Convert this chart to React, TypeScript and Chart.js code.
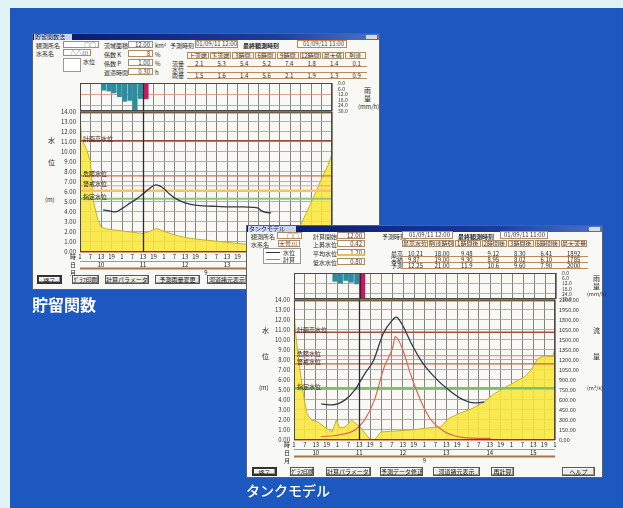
import React, { useEffect, useRef } from "react";
import { Chart, registerables } from "chart.js";

Chart.register(...registerables);

const FONT = '"Noto Sans CJK JP", "Noto Sans", sans-serif';
Chart.defaults.font.family = FONT;

// ---------- shared time axis (1 unit = 6 hours) ----------
const hourLabels = ["1","7","13","19","1","7","13","19","1","7","13","19","1","7","13","19","1","7","13","19","1","7","13","19","1"];
const dayLabels = ["10", "11", "12", "13", "14", "15"];
const dayCenters = [2, 6, 10, 14, 18, 22];
const monthLabels = ["9"];
const monthCenters = [12];
const rowNames = ["時", "日", "月"];
const levelTop = 14;
const rainTicks = [0, 6, 12, 18, 24, 30];

// ---------- 貯留関数 ----------
const s1RainX = [2.25, 2.75, 3.25, 3.75, 4.25, 4.75, 5.25, 5.75];
const s1Rain = [8, 9, 11, 15, 20, 19, 29, 17];
const s1RainFcX = [6.25];
const s1RainFc = [17];
const s1ObsX = [0, 0.15, 0.6, 1.0, 1.25, 1.7, 2.0, 2.5, 3.2, 4.0, 4.8, 5.5, 6.0, 6.6, 7.3, 7.9, 8.6, 9.4, 10.2, 11.0, 11.8, 12.8, 13.7, 14.6, 15.6, 16.5, 17.5, 18.5, 19.5, 20.5, 21.1, 21.6, 22.3, 23.0, 23.6, 24];
const s1Obs = [13.5, 11.3, 10.3, 9.0, 5.2, 3.2, 2.5, 2.3, 2.2, 2.1, 2.0, 1.9, 1.85, 2.05, 2.35, 2.1, 1.85, 1.6, 1.4, 1.3, 1.2, 1.1, 1.0, 0.9, 0.8, 0.8, 0.9, 1.0, 1.2, 1.8, 2.9, 4.0, 5.6, 7.3, 8.6, 9.8];
const s1CalcX = [2.2, 2.8, 3.4, 4.1, 4.8, 5.4, 6.0, 6.6, 7.2, 7.6, 8.0, 8.5, 9.0, 10.0, 10.8, 11.8, 13.0, 14.3, 15.5, 16.5, 16.9, 17.3, 17.7, 18.2];
const s1Calc = [4.2, 4.1, 4.0, 4.4, 4.9, 5.3, 5.8, 6.3, 6.7, 6.6, 6.3, 5.8, 5.4, 4.9, 4.7, 4.6, 4.55, 4.5, 4.5, 4.45, 4.4, 4.1, 3.95, 3.9];
const s1RefLevels = [11.1, 7.6, 6.6, 6.1, 5.3];
const s1RefNames = ["計画高水位", "危険水位", "警戒水位", "", "指定水位"];
const s1RefColors = ["#9a4a38", "#d0705a", "#e6a090", "#f2c46a", "#8cc878"];
const s1RefWidths = [1.6, 1.3, 1, 2.5, 2];
const s1Now = 6;

// ---------- タンクモデル ----------
const t2RainX = [3.75, 4.25, 4.75, 5.25, 5.75];
const t2Rain = [10, 12, 9, 11, 13];
const t2RainFcX = [6.25];
const t2RainFc = [30];
const t2FlowX = [0, 0.15, 0.55, 0.85, 1.2, 1.6, 2.2, 2.8, 3.5, 3.9, 4.2, 4.7, 5.3, 5.6, 6.1, 6.5, 7.0, 7.4, 8.0, 9.3, 10.8, 12.3, 13.5, 14.2, 15.1, 16.3, 17.5, 18.4, 20.0, 21.2, 21.8, 22.4, 23.0, 23.8, 24];
const t2Flow = [1980, 1590, 1050, 690, 390, 300, 270, 195, 120, 300, 180, 195, 300, 255, 195, 105, 10, 0, 120, 135, 150, 180, 195, 320, 390, 465, 570, 690, 840, 945, 1050, 1215, 1260, 1245, 1395];
const t2CalcX = [2.5, 3.5, 4.7, 5.6, 6.5, 7.3, 8.2, 9.0, 9.4, 9.9, 10.8, 11.7, 12.9, 14.2, 15.4, 16.6, 17.5];
const t2Calc = [3.6, 3.5, 4.0, 5.0, 6.6, 7.9, 10.6, 11.9, 12.25, 11.6, 9.6, 7.9, 6.3, 5.0, 4.1, 3.7, 3.8];
const t2TankX = [2.5, 4.1, 5.6, 6.5, 7.4, 8.3, 9.1, 9.3, 9.9, 10.8, 11.7, 12.6, 13.9, 15.1, 16.9, 18.1];
const t2Tank = [0.33, 0.5, 1.0, 2.0, 4.0, 7.3, 9.3, 10.3, 9.3, 6.3, 3.8, 2.0, 0.8, 0.33, 0.17, 0.17];
const t2RefLevels = [10.75, 8.4, 7.6, 5.15];
const t2RefNames = ["計画高水位", "危険水位", "警戒水位", "指定水位"];
const t2RefColors = ["#a05040", "#d88070", "#c86050", "#7cc070"];
const t2RefWidths = [1.6, 1.2, 1.2, 2.5];
const t2Now = 6;

const GRID_V = "rgba(100,92,88,0.75)";
const GRID_H = "rgba(212,146,128,0.85)";

const framePlugin = {
  id: "frame",
  afterDatasetsDraw(chart: any) {
    const { ctx, chartArea: a } = chart;
    ctx.save();
    ctx.strokeStyle = "#4a4a4a";
    ctx.lineWidth = 1;
    ctx.strokeRect(a.left + 0.5, a.top + 0.5, a.width - 1, a.height - 1);
    ctx.restore();
  },
};

function nowLinePlugin(xv: number) {
  return {
    id: "nowLine",
    afterDatasetsDraw(chart: any) {
      const { ctx, chartArea: a, scales } = chart;
      const px = Math.round(scales.x.getPixelForValue(xv)) + 0.5;
      ctx.save();
      ctx.strokeStyle = "#2b2b2b";
      ctx.lineWidth = 1.3;
      ctx.beginPath();
      ctx.moveTo(px, a.top);
      ctx.lineTo(px, a.bottom);
      ctx.stroke();
      ctx.restore();
    },
  };
}

const rainLabelPlugin = {
  id: "rainLabels",
  afterDraw(chart: any) {
    const { ctx, chartArea: a, scales } = chart;
    ctx.save();
    ctx.font = `5px ${FONT}`;
    ctx.fillStyle = "#333";
    ctx.textAlign = "left";
    ctx.textBaseline = "middle";
    rainTicks.forEach((v) => ctx.fillText(v.toFixed(1), a.right + 6, scales.y.getPixelForValue(v)));
    ctx.restore();
  },
};

function refLabelPlugin(levels: number[], names: string[]) {
  return {
    id: "refLabels",
    afterDatasetsDraw(chart: any) {
      const { ctx, chartArea: a, scales } = chart;
      ctx.save();
      ctx.font = `6px ${FONT}`;
      ctx.fillStyle = "#3a2418";
      ctx.textAlign = "left";
      ctx.textBaseline = "bottom";
      levels.forEach((v, i) => {
        if (!names[i]) return;
        ctx.fillText(names[i], a.left + 3, scales.y.getPixelForValue(v) + 1);
      });
      ctx.restore();
    },
  };
}

const rowsPlugin = {
  id: "rows",
  afterDraw(chart: any) {
    const { ctx, chartArea: a, scales } = chart;
    const x = scales.x;
    ctx.save();
    ctx.strokeStyle = "#9a9a9a";
    ctx.lineWidth = 1;
    ctx.beginPath();
    ctx.moveTo(a.left, a.bottom + 9.5);
    ctx.lineTo(a.right, a.bottom + 9.5);
    ctx.stroke();
    ctx.strokeStyle = "#a8744a";
    ctx.lineWidth = 2;
    ctx.beginPath();
    ctx.moveTo(a.left, a.bottom + 16.5);
    ctx.lineTo(a.right, a.bottom + 16.5);
    ctx.stroke();
    ctx.font = `6px ${FONT}`;
    ctx.fillStyle = "#222";
    ctx.textAlign = "center";
    ctx.textBaseline = "middle";
    dayLabels.forEach((d, i) => ctx.fillText(d, x.getPixelForValue(dayCenters[i]), a.bottom + 13));
    monthLabels.forEach((m, i) => ctx.fillText(m, x.getPixelForValue(monthCenters[i]), a.bottom + 20.5));
    ctx.textAlign = "right";
    const ys = [5, 13, 20.5];
    rowNames.forEach((n, i) => ctx.fillText(n, a.left - 4, a.bottom + ys[i]));
    ctx.restore();
  },
};

const pts = (xs: number[], ys: number[]) => xs.map((x, i) => ({ x, y: ys[i] }));

function rainConfig(xs: number[], vals: number[], fxs: number[], fvals: number[], now: number): any {
  return {
    type: "bar",
    data: {
      datasets: [
        { data: pts(xs, vals), backgroundColor: "#2a8da0", barPercentage: 0.92, categoryPercentage: 1, grouped: false, order: 2 },
        { data: pts(fxs, fvals), backgroundColor: "#c21d5e", barPercentage: 1, categoryPercentage: 1, grouped: false, order: 1 },
      ],
    },
    options: {
      responsive: false,
      animation: false,
      devicePixelRatio: 1,
      layout: { padding: { left: 44, top: 3, right: 0, bottom: 3 } },
      plugins: { legend: { display: false }, tooltip: { enabled: false } },
      scales: {
        x: {
          type: "linear", min: 0, max: 24, offset: false,
          ticks: { display: false, stepSize: 1 },
          grid: { color: GRID_V, drawTicks: false, offset: false },
          border: { display: false },
          afterFit: (s: any) => { s.height = 0; },
        },
        y: {
          type: "linear", position: "right", reverse: true, min: 0, max: 30,
          ticks: { display: false, stepSize: 6 },
          grid: { drawTicks: false, color: (c: any) => (c.tick && c.tick.value % 12 === 0 && c.tick.value > 0 && c.tick.value < 30 ? GRID_H : "rgba(0,0,0,0)") },
          border: { display: false },
          afterFit: (s: any) => { s.width = 44; },
        },
      },
    },
    plugins: [framePlugin, nowLinePlugin(now), rainLabelPlugin],
  };
}

function levelConfig(p: any): any {
  const datasets: any[] = [];
  datasets.push({
    data: pts(p.fillX, p.fillY), yAxisID: p.rightAxis ? "y2" : "y", fill: "origin",
    backgroundColor: "rgba(248,230,60,0.88)", borderColor: "#c9b028", borderWidth: 1, pointRadius: 0, tension: 0, order: 10,
  });
  p.refLevels.forEach((v: number, i: number) =>
    datasets.push({ data: [{ x: 0, y: v }, { x: 24, y: v }], borderColor: p.refColors[i], borderWidth: p.refWidths[i], pointRadius: 0, fill: false, order: 5 })
  );
  datasets.push({ data: [{ x: 0, y: levelTop }, { x: 24, y: levelTop }], borderColor: "#a87438", borderWidth: 4, pointRadius: 0, fill: false, order: 4 });
  p.lines.forEach((l: any) =>
    datasets.push({ data: pts(l.xs, l.ys), borderColor: l.color, borderWidth: l.width, pointRadius: 0, cubicInterpolationMode: "monotone", fill: false, order: 1 })
  );
  const scales: any = {
    x: {
      type: "linear", min: 0, max: 24,
      ticks: { stepSize: 1, autoSkip: false, maxRotation: 0, minRotation: 0, font: { size: 6 }, color: "#222", padding: 1, callback: (_v: any, i: number) => hourLabels[i] ?? "" },
      grid: { color: GRID_V, drawTicks: false },
      border: { display: false },
      afterFit: (s: any) => { s.height = 24; },
    },
    y: {
      type: "linear", position: "left", min: 0, max: levelTop,
      ticks: { stepSize: 1, autoSkip: false, font: { size: 6 }, color: "#333", padding: 4, callback: (v: number) => v.toFixed(2) },
      grid: { color: GRID_H, drawTicks: false },
      border: { display: false },
      afterFit: (s: any) => { s.width = 44; },
    },
  };
  if (p.rightAxis) {
    scales.y2 = {
      type: "linear", position: "right", min: 0, max: 2100,
      ticks: { stepSize: 150, autoSkip: false, font: { size: 5.5 }, color: "#333", padding: 4, callback: (v: number) => v.toFixed(2) },
      grid: { display: false, drawTicks: false },
      border: { display: false },
      afterFit: (s: any) => { s.width = 45; },
    };
  }
  return {
    type: "line",
    data: { datasets },
    options: {
      responsive: false,
      animation: false,
      devicePixelRatio: 1,
      layout: { padding: { top: 7, right: p.rightAxis ? 0 : 44, left: 0, bottom: 0 } },
      plugins: { legend: { display: false }, tooltip: { enabled: false } },
      scales,
    },
    plugins: [framePlugin, nowLinePlugin(p.now), refLabelPlugin(p.refLevels, p.refNames), rowsPlugin],
  };
}

function ChartBox({ left, top, width, height, make }: any) {
  const ref = useRef<HTMLCanvasElement>(null);
  useEffect(() => {
    const chart = new Chart(ref.current as HTMLCanvasElement, make());
    return () => chart.destroy();
  }, []);
  return <canvas ref={ref} width={width} height={height} style={{ position: "absolute", left, top, width, height }} />;
}

const txt = (x: number, y: number, s: string, extra: any = {}) => (
  <div key={`t${x}-${y}-${s}`} style={{ position: "absolute", left: x, top: y, fontSize: 6, lineHeight: "7px", color: "#2a2a2a", whiteSpace: "nowrap", ...extra }}>{s}</div>
);
const box = (x: number, y: number, w: number, h: number, s = "", extra: any = {}) => (
  <div key={`b${x}-${y}`} style={{ position: "absolute", left: x, top: y, width: w, height: h, boxSizing: "border-box", border: "1px solid #b08a60", background: "#fff", fontSize: 6, lineHeight: `${h - 2}px`, textAlign: "right", paddingRight: 2, color: "#333", whiteSpace: "nowrap", overflow: "hidden", ...extra }}>{s}</div>
);
const btn = (x: number, y: number, w: number, h: number, s: string, strong = false) => (
  <div key={`n${x}-${y}`} style={{ position: "absolute", left: x, top: y, width: w, height: h, boxSizing: "border-box", border: strong ? "2px solid #333" : "1px solid #555", background: "#ecebe4", boxShadow: "inset -1px -1px 0 #999, inset 1px 1px 0 #fff", fontSize: 6, lineHeight: `${h - 2}px`, textAlign: "center", color: "#111", whiteSpace: "nowrap", overflow: "hidden" }}>{s}</div>
);
const hline = (x: number, y: number, w: number, c = "#a8744a", t = 1) => (
  <div key={`h${x}-${y}-${w}`} style={{ position: "absolute", left: x, top: y, width: w, height: t, background: c }} />
);

function Window1() {
  const cells1 = ["上流端", "下流端", "3時間", "6時間", "9時間", "12時間", "最大値", "到達"];
  return (
    <>
      <div style={{ position: "absolute", left: 32, top: 33, width: 348, height: 257, background: "#f8f8f4", border: "1px solid #606060", boxSizing: "border-box" }} />
      <div style={{ position: "absolute", left: 33, top: 34, width: 346, height: 6, background: "linear-gradient(90deg,#06166a,#1d3c9c 70%,#4b74c8)" }} />
      <div style={{ position: "absolute", left: 34, top: 34, width: 38, height: 6, background: "#c8d4ec" }} />
      {txt(35, 34, "貯留関数法", { color: "#102060", fontSize: 6, lineHeight: "6px" })}
      <div style={{ position: "absolute", left: 366, top: 35, width: 11, height: 4, background: "#d8d8d8" }} />
      {txt(36, 42, "観測所名")}
      {box(63, 41, 36, 7, "○○")}
      {txt(36, 50, "水系名")}
      {box(63, 49, 28, 7, "△△川", { borderColor: "#d08040" })}
      {box(63, 58, 18, 14, "", { borderColor: "#999" })}
      {txt(83, 58, "水位")}
      {txt(104, 42, "流域面積")}
      {txt(104, 51, "係数 K")}
      {txt(104, 60, "係数 P")}
      {txt(104, 69, "遅滞時間")}
      {box(128, 41, 25, 7, "12.00")}
      {box(128, 50, 25, 7, "8")}
      {box(128, 59, 25, 7, "1.00")}
      {box(128, 68, 25, 7, "0.30")}
      {txt(155, 42, "km²")}
      {txt(155, 51, "%")}
      {txt(155, 60, "%")}
      {txt(155, 69, "h")}
      {txt(170, 42, "予測時刻")}
      {box(195, 40, 43, 8, "01/09/11 12:00")}
      {txt(243, 42, "最終観測時刻", { fontWeight: 700 })}
      {box(297, 40, 50, 8, "01/09/11 11:00", { borderColor: "#d08040" })}
      {cells1.map((c, i) => box(187 + i * 22.5, 52, 21.5, 7, c, { textAlign: "center", paddingRight: 0, background: "#f4f2ea" }))}
      {txt(172, 60, "流量")}
      {txt(172, 66, "水位")}
      {txt(172, 72, "雨量")}
      {[0, 1, 2].map((r) => hline(187, 66 + r * 6, 180, "#b88a60"))}
      {["2.1", "5.3", "5.4", "5.2", "7.4", "1.8", "1.4", "0.1"].map((v, i) => txt(195 + i * 22.5, 60, v))}
      {["1.5", "1.6", "1.4", "5.6", "2.1", "1.9", "1.3", "0.9"].map((v, i) => txt(195 + i * 22.5, 72, v))}
      {txt(48, 137, "水", { fontSize: 7 })}
      {txt(48, 159, "位", { fontSize: 7 })}
      {txt(45, 196, "(m)", { fontSize: 6 })}
      {txt(364, 87, "雨", { fontSize: 7 })}
      {txt(364, 95, "量", { fontSize: 7 })}
      {txt(358, 103, "(mm/h)", { fontSize: 6 })}
      <ChartBox left={36} top={80} width={340} height={34} make={() => rainConfig(s1RainX, s1Rain, s1RainFcX, s1RainFc, s1Now)} />
      <ChartBox
        left={36}
        top={104}
        width={340}
        height={172}
        make={() =>
          levelConfig({
            fillX: s1ObsX, fillY: s1Obs, rightAxis: false,
            lines: [{ xs: s1CalcX, ys: s1Calc, color: "#323a4c", width: 1.3 }],
            refLevels: s1RefLevels, refNames: s1RefNames, refColors: s1RefColors, refWidths: s1RefWidths, now: s1Now,
          })
        }
      />
      {btn(37, 275, 25, 9, "終了", true)}
      {btn(72, 275, 27, 9, "ｸﾞﾗﾌ印刷")}
      {btn(105, 275, 44, 9, "計算パラメータ変更")}
      {btn(155, 275, 45, 9, "予測雨量変更")}
      {btn(207, 275, 40, 9, "河道諸元表示")}
    </>
  );
}

function Window2() {
  const cells2 = ["最高水位", "到達時刻", "1時間後", "2時間後", "3時間後", "6時間後", "最大流量"];
  return (
    <>
      <div style={{ position: "absolute", left: 246, top: 225, width: 357, height: 253, background: "#f8f8f4", border: "1px solid #606060", boxSizing: "border-box" }} />
      <div style={{ position: "absolute", left: 247, top: 226, width: 355, height: 6, background: "linear-gradient(90deg,#06166a,#1d3c9c 70%,#4b74c8)" }} />
      <div style={{ position: "absolute", left: 248, top: 226, width: 48, height: 6, background: "#c8d4ec" }} />
      {txt(249, 226, "タンクモデル", { color: "#102060", fontSize: 6, lineHeight: "6px" })}
      <div style={{ position: "absolute", left: 589, top: 227, width: 11, height: 4, background: "#d8d8d8" }} />
      {txt(251, 233, "観測所名")}
      {box(277, 232, 25, 7, "○○")}
      {txt(251, 241, "水系名")}
      {box(278, 240, 22, 7, "大曽川")}
      {box(263, 248, 38, 16, "", { borderColor: "#999" })}
      {hline(266, 252, 14, "#333")}
      {txt(283, 249, "水位")}
      {hline(266, 259, 14, "#e0684f")}
      {txt(283, 256, "計算")}
      {txt(313, 233, "計算開始")}
      {txt(313, 241, "上昇水位")}
      {txt(313, 250, "平均水位")}
      {txt(313, 259, "低水水位")}
      {box(337, 232, 28, 7, "12.00")}
      {box(337, 240, 28, 7, "0.42")}
      {box(337, 249, 28, 7, "1.20", { borderBottom: "2px solid #e8c050" })}
      {box(337, 258, 28, 7, "0.80")}
      {txt(382, 233, "予測時刻")}
      {box(402, 231, 51, 8, "01/09/11 12:00")}
      {txt(458, 233, "最終観測時刻", { fontWeight: 700 })}
      {box(500, 231, 48, 8, "01/09/11 11:00")}
      {cells2.map((c, i) => box(402 + i * 26.5, 240, 25.5, 7, c, { textAlign: "center", paddingRight: 0, background: "#f4f2ea" }))}
      {txt(391, 250, "最高")}
      {txt(391, 256, "実績")}
      {txt(391, 262, "予測")}
      {[0, 1, 2].map((r) => hline(402, 256 + r * 6, 186, "#b88a60"))}
      {["10.21", "18.00", "9.48", "9.12", "8.30", "6.41", "1892"].map((v, i) => txt(408 + i * 26.5, 250, v))}
      {["9.87", "19.00", "9.30", "8.95", "8.02", "6.10", "1785"].map((v, i) => txt(408 + i * 26.5, 256, v))}
      {["12.25", "21.00", "11.9", "10.6", "9.60", "7.90", "2000"].map((v, i) => txt(408 + i * 26.5, 262, v))}
      {txt(262, 327, "水", { fontSize: 7 })}
      {txt(262, 353, "位", { fontSize: 7 })}
      {txt(259, 384, "(m)", { fontSize: 6 })}
      {txt(593, 275, "雨", { fontSize: 7 })}
      {txt(593, 283, "量", { fontSize: 7 })}
      {txt(587, 291, "(mm/h)", { fontSize: 5.5 })}
      {txt(593, 327, "流", { fontSize: 7 })}
      {txt(593, 353, "量", { fontSize: 7 })}
      {txt(587, 385, "(m³/s)", { fontSize: 5.5 })}
      <ChartBox left={250} top={270} width={350} height={32} make={() => rainConfig(t2RainX, t2Rain, t2RainFcX, t2RainFc, t2Now)} />
      <ChartBox
        left={250}
        top={292}
        width={350}
        height={172}
        make={() =>
          levelConfig({
            fillX: t2FlowX, fillY: t2Flow, rightAxis: true,
            lines: [
              { xs: t2TankX, ys: t2Tank, color: "#e0684f", width: 1.2 },
              { xs: t2CalcX, ys: t2Calc, color: "#323a4c", width: 1.3 },
            ],
            refLevels: t2RefLevels, refNames: t2RefNames, refColors: t2RefColors, refWidths: t2RefWidths, now: t2Now,
          })
        }
      />
      {btn(252, 467, 25, 9, "終了", true)}
      {btn(290, 467, 24, 9, "ｸﾞﾗﾌ印刷")}
      {btn(326, 467, 45, 9, "計算パラメータ変更")}
      {btn(380, 467, 43, 9, "予測データ修正")}
      {btn(433, 467, 47, 9, "河道諸元表示")}
      {btn(491, 467, 23, 9, "再計算")}
      {btn(562, 467, 33, 9, "ヘルプ")}
    </>
  );
}

export default function App() {
  return (
    <div style={{ position: "absolute", left: 0, top: 0, width: 623, height: 508, background: "#e2f3f6", overflow: "hidden", fontFamily: FONT }}>
      <div style={{ position: "absolute", left: 10, top: 8, width: 613, height: 500, background: "#1d58c0" }} />
      <div style={{ position: "absolute", left: 0, top: 0, width: 623, height: 508, zIndex: 1 }}>
        <Window1 />
      </div>
      <div style={{ position: "absolute", left: 0, top: 0, width: 623, height: 508, zIndex: 2 }}>
        <Window2 />
      </div>
      <div style={{ position: "absolute", left: 32, top: 294, fontSize: 16, fontWeight: 700, color: "#fff", lineHeight: "20px", zIndex: 3 }}>貯留関数</div>
      <div style={{ position: "absolute", left: 246, top: 481, fontSize: 14, fontWeight: 500, color: "#fff", lineHeight: "18px", zIndex: 3 }}>タンクモデル</div>
    </div>
  );
}
